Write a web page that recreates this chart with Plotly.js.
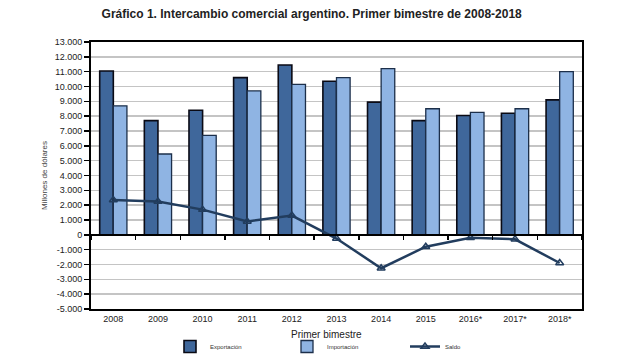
<!DOCTYPE html>
<html>
<head>
<meta charset="utf-8">
<script src="https://cdn.plot.ly/plotly-3.0.1.min.js"></script>
<style>html,body{margin:0;padding:0;background:#fff;}#chart{width:640px;height:361px;}</style>
</head>
<body>
<div id="chart"></div>
<script>
const categories = ["2008","2009","2010","2011","2012","2013","2014","2015","2016*","2017*","2018*"];
const exportacion = [11050, 7700, 8400, 10600, 11450, 10350, 8950, 7700, 8050, 8200, 9100];
const importacion = [8700, 5450, 6700, 9700, 10150, 10600, 11200, 8500, 8250, 8500, 11000];
const saldo = [2350, 2250, 1700, 900, 1300, -250, -2250, -800, -200, -300, -1900];
const yTickVals = [-5000,-4000,-3000,-2000,-1000,0,1000,2000,3000,4000,5000,6000,7000,8000,9000,10000,11000,12000,13000];
const yTickText = yTickVals.map(v => (v < 0 ? "-" : "") + Math.abs(v).toString().replace(/\B(?=(\d{3})+(?!\d))/g, "."));
const xTitle = "Primer bimestre";

const font = "Liberation Sans, Arial, sans-serif";
const yMin = -5000, yMax = 13000;

const traces = [
  {type:"bar", name:"Exportación", x:categories, y:exportacion, legend:"legend",
   marker:{color:"#3f679b", line:{color:"#0a0a14", width:1.6}}},
  {type:"bar", name:"Importación", x:categories, y:importacion, legend:"legend2",
   marker:{color:"#8fb4e3", line:{color:"#1c2f4a", width:1.3}}},
  {type:"scatter", mode:"lines+markers", name:"Saldo", x:categories, y:saldo,
   xaxis:"x2", yaxis:"y", legend:"legend3",
   line:{color:"#223d5e", width:2.5},
   marker:{symbol:"triangle-up-open", size:7, color:"#223d5e", line:{width:1.5}}}
];

const legBase = {orientation:"h", xanchor:"left", xref:"container", yref:"container",
                 y:0, yanchor:"bottom",
                 font:{size:6, color:"#333"}, itemwidth:30, bgcolor:"rgba(0,0,0,0)"};

const layout = {
  width:640, height:361,
  paper_bgcolor:"#fff", plot_bgcolor:"#fff",
  margin:{l:91, r:58, t:42, b:52},
  font:{family:font, color:"#222", size:9},
  title:{text:"<b>Gráfico 1. Intercambio comercial argentino. Primer bimestre de 2008-2018</b>",
         font:{family:"Liberation Sans Narrow, Arial Narrow, Liberation Sans, sans-serif", size:12, color:"#222"},
         x:0.487, xanchor:"center", y:0.962, yanchor:"middle"},
  barmode:"group", bargap:0.39, bargroupgap:0,
  showlegend:true,
  legend: Object.assign({}, legBase, {x:170/640}),
  legend2: Object.assign({}, legBase, {x:287/640}),
  legend3: Object.assign({}, legBase, {x:405/640}),
  annotations:[{text:xTitle, xref:"paper", yref:"paper", x:0.48, y:-0.094,
                xanchor:"center", yanchor:"middle", showarrow:false,
                font:{size:10, color:"#222"}}],
  xaxis:{type:"category", categoryorder:"array", categoryarray:categories,
         range:[-0.5, 10.5], automargin:false,
         showline:true, linecolor:"#000", linewidth:2, mirror:true,
         ticks:"", showgrid:false, zeroline:false,
         tickfont:{size:9, color:"#222"}},
  xaxis2:{type:"category", categoryorder:"array", categoryarray:categories,
          range:[-0.5, 10.5], overlaying:"x", anchor:"free",
          position:(0 - yMin)/(yMax - yMin),
          showline:true, linecolor:"#000", linewidth:2,
          ticks:"outside", tickson:"boundaries", ticklen:4, tickwidth:1.5, tickcolor:"#000",
          showticklabels:false, showgrid:false, zeroline:false},
  yaxis:{range:[yMin, yMax], tickvals:yTickVals, ticktext:yTickText, automargin:false,
         showline:true, linecolor:"#000", linewidth:2, mirror:true,
         ticks:"outside", ticklen:5, tickwidth:1.5, tickcolor:"#000",
         showgrid:true, gridcolor:"#c4c4c4", gridwidth:1.5, zeroline:false,
         tickfont:{size:9, color:"#222"},
         title:{text:"Millones de dólares", font:{size:8, color:"#444"}, standoff:6}}
};

Plotly.newPlot("chart", traces, layout, {displayModeBar:false, staticPlot:true});
</script>
</body>
</html>
